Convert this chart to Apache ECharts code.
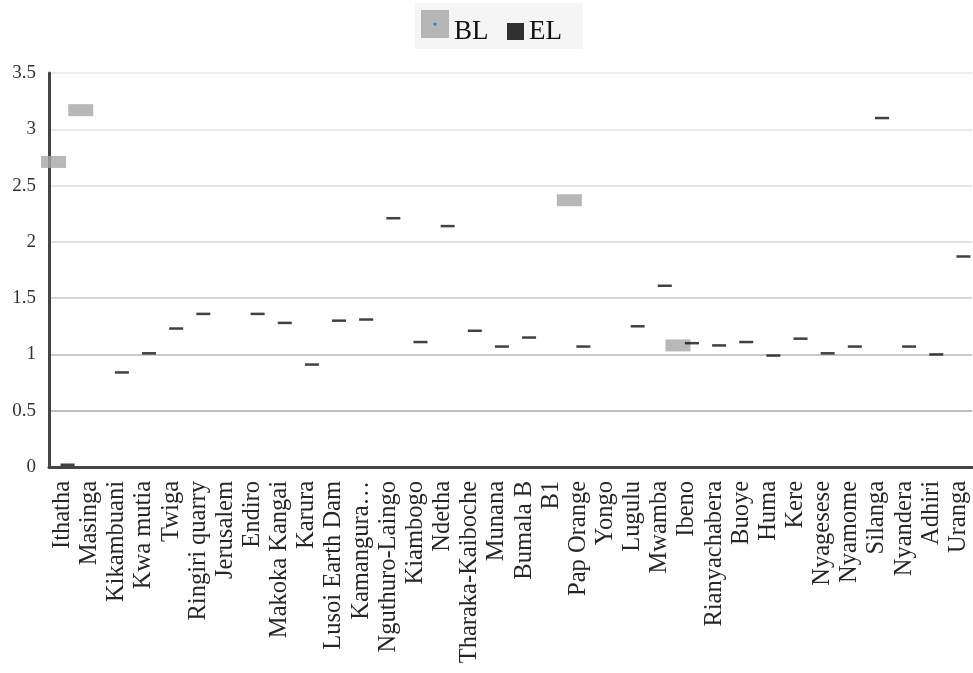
<!DOCTYPE html>
<html>
<head>
<meta charset="utf-8">
<script src="https://cdn.jsdelivr.net/npm/echarts@6/dist/echarts.min.js"></script>
<style>
html,body{margin:0;padding:0;background:#fff;}
#chart{width:973px;height:673px;}
</style>
</head>
<body>
<div id="chart"></div>
<script>
var categories = ["Ithatha","Masinga","Kikambuani","Kwa mutia","Twiga","Ringiri quarry","Jerusalem","Endiro","Makoka Kangai","Karura","Lusoi Earth Dam","Kamangura…","Nguthuro-Laingo","Kiambogo","Ndetha","Tharaka-Kaiboche","Munana","Bumala B","B1","Pap Orange","Yongo","Lugulu","Mwamba","Ibeno","Rianyachabera","Buoye","Huma","Kere","Nyagesese","Nyamome","Silanga","Nyandera","Adhiri","Uranga"];
var blValues = [2.71,3.17,null,null,null,null,null,null,null,null,null,null,null,null,null,null,null,null,null,2.37,null,null,null,1.08,null,null,null,null,null,null,null,null,null,null];
var elValues = [0.02,null,0.84,1.01,1.23,1.36,null,1.36,1.28,0.91,1.30,1.31,2.21,1.11,2.14,1.21,1.07,1.15,null,1.07,null,1.25,1.61,1.10,1.08,1.11,0.99,1.14,1.01,1.07,3.10,1.07,1.00,1.87];
var yTicks = {min:0, max:3.5, interval:0.5};

var font = '"Liberation Serif", "Times New Roman", serif';
var chart = echarts.init(document.getElementById('chart'), null, {renderer:'canvas'});
chart.setOption({
  animation:false,
  backgroundColor:'#ffffff',
  graphic:[
    {type:'rect', shape:{x:415,y:3,width:168,height:46}, style:{fill:'#f5f5f5'}, z:0},
    {type:'circle', shape:{cx:435,cy:24,r:1.5}, style:{fill:'#4472c4'}, z:100}
  ],
  legend:[
    {data:[{name:'BL',icon:'rect'}], left:421, top:10, padding:0, itemWidth:28, itemHeight:28, selectedMode:false,
     formatter:'{t|{name}}',
     textStyle:{fontFamily:font, fontSize:27, color:'#111',
       rich:{t:{fontFamily:font, fontSize:27, color:'#111', padding:[15,0,0,0]}}}},
    {data:[{name:'EL',icon:'rect', itemStyle:{color:'#000'}}], left:507, top:18, padding:0, itemWidth:17, itemHeight:17, selectedMode:false,
     formatter:'{t|{name}}',
     textStyle:{fontFamily:font, fontSize:27, color:'#111',
       rich:{t:{fontFamily:font, fontSize:27, color:'#111', padding:[0,0,0,0]}}}}
  ],
  grid:{left:49, right:1, top:73, bottom:206, containLabel:false},
  xAxis:{
    type:'category', data:categories, boundaryGap:true,
    axisLine:{show:true, lineStyle:{color:'#444', width:3}},
    axisTick:{show:false},
    axisLabel:{interval:0, rotate:90, margin:14, fontFamily:font, fontSize:24.5, color:'#262626'},
    splitLine:{show:false}
  },
  yAxis:{
    type:'value', min:yTicks.min, max:yTicks.max, interval:yTicks.interval,
    axisLine:{show:true, lineStyle:{color:'#444', width:3}},
    axisTick:{show:false},
    axisLabel:{margin:13, fontFamily:font, fontSize:19, color:'#333'},
    splitLine:{show:true, lineStyle:{width:1.5, color:['#999','#a8a8a8','#b8b8b8','#cacaca','#d8d8d8','#dedede','#e2e2e2','#e4e4e4']}}
  },
  series:[
    {name:'BL', type:'scatter', data:blValues, symbol:'rect', symbolSize:[25,12], symbolOffset:[-9,0],
     itemStyle:{color:'#a6a6a6'}, z:2},
    {name:'EL', type:'scatter', data:elValues, symbol:'rect', symbolSize:[14,2.5], symbolOffset:[5,0],
     itemStyle:{color:'#111'}, z:3}
  ]
});
</script>
</body>
</html>
